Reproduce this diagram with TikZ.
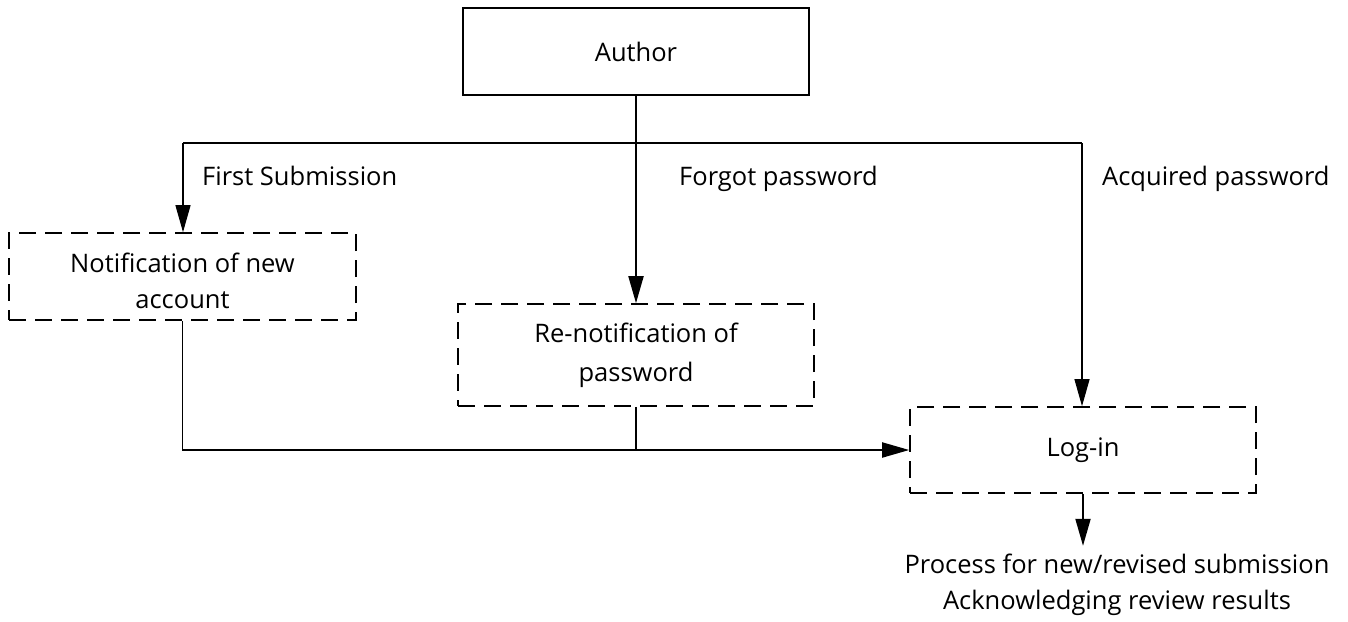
\documentclass[tikz,border=0pt]{standalone}
\usepackage{fontspec}
\setmainfont{Open Sans}
\usetikzlibrary{arrows.meta}
\tikzset{
  solidbox/.style={draw,line width=1.8pt,minimum width=346pt,minimum height=87pt,inner sep=0pt},
  dashbox/.style={draw,line width=1.6pt,dash pattern=on 17pt off 9pt,inner sep=0pt,align=center},
  thinline/.style={line width=1.1pt},
  thickline/.style={line width=1.9pt},
  arr/.style={-{Triangle[length=27pt,width=15pt]}},
  lbl/.style={anchor=base west,inner sep=0pt}
}
\begin{document}
\begin{tikzpicture}[x=1pt,y=-1pt,font=\fontsize{25.5}{36}\selectfont]
  \useasboundingbox (0,0) rectangle (1348,621);
   \coordinate (bl) at (183,143);
   \coordinate (br) at (1082,143);
  % boxes
  \node[solidbox] (author) at (636,51.5) {Author};
  \node[dashbox,minimum width=347pt,minimum height=87pt] (notif) at (182.5,276.5) {\\[-8pt]Notification of new\\account};
  \node[dashbox,minimum width=356pt,minimum height=102pt] (renotif) at (636,355) {Re-notification of\\[3pt]password};
  \node[dashbox,minimum width=346pt,minimum height=86pt] (login) at (1083,450) {Log-in};
  \node[align=center,anchor=north,inner sep=0pt] (proc) at (1117,554) {Process for new/revised submission\\Acknowledging review results};
  % labels
  \node[lbl] (first) at (202,185) {First Submission};
  \node[lbl] (forgot) at (679,185) {Forgot password};
  \node[lbl] (acquired) at (1102,185) {Acquired password};
  % connectors
  \draw[thinline] (bl) -- (br);
  \draw[thinline,arr] (bl) -- (bl |- notif.north);
  \draw[thinline,arr] (br) -- (br |- login.north);
  \draw[thickline,arr] (author.south) -- (renotif.north);
  \draw[thickline,arr] (notif.south) |- (login.west);
  \draw[thickline] (renotif.south) -- (renotif.south |- login.west);
  \draw[thickline,arr] (login.south) -- ++(0,52);
\end{tikzpicture}
\end{document}
